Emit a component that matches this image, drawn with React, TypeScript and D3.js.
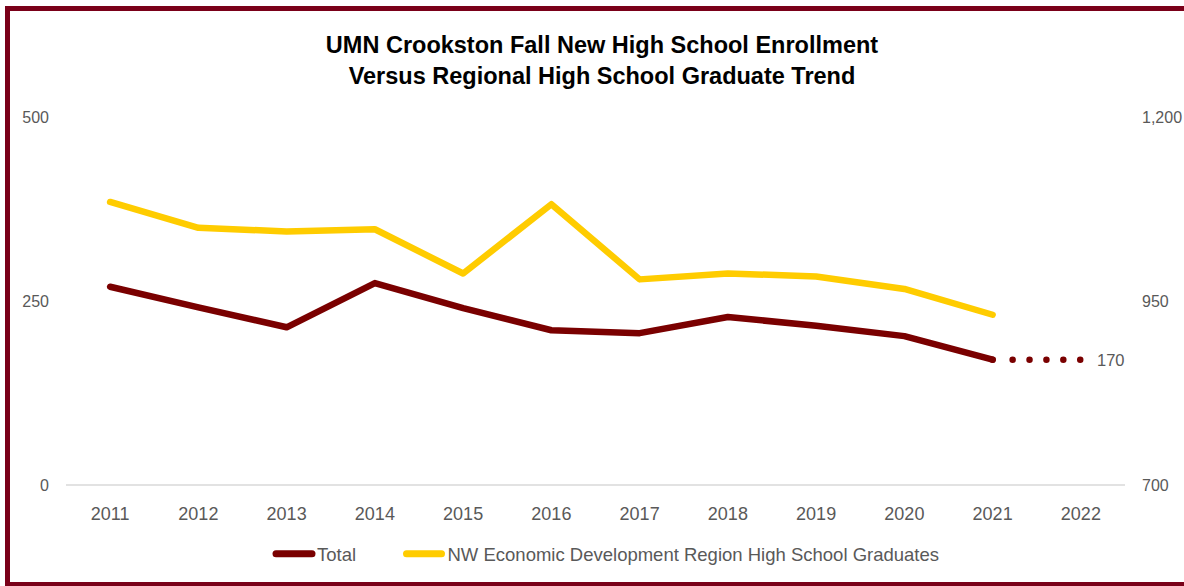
import React from "react";
import * as d3 from "d3";

const years = ["2011","2012","2013","2014","2015","2016","2017","2018","2019","2020","2021","2022"];
const totalYears = ["2011","2012","2013","2014","2015","2016","2017","2018","2019","2020","2021"];
const totalValues = [269, 241, 214, 274, 240, 210, 206, 228, 216, 202, 170];
const forecastYears = ["2021", "2022"];
const forecastValues = [170, 170];
const gradValues = [1084, 1049, 1044, 1047, 987, 1081, 979, 987, 983, 966, 931];
const leftTicks = [0, 250, 500];
const rightTicks = [700, 950, 1200];
const titleLines = ["UMN Crookston Fall New High School Enrollment", "Versus Regional High School Graduate Trend"];
const legendLabels = ["Total", "NW Economic Development Region High School Graduates"];
const forecastLabel = "170";

const W = 1184, H = 586;
const MAROON = "#7A0000";
const GOLD = "#FFCC00";
const BORDER = "#7A0019";
const GRAY = "#595959";
const FONT = "'Liberation Sans', Arial, sans-serif";

export default function App() {
  const x = d3.scaleBand<string>().domain(years).range([66, 1125]);
  const cx = (d: string) => (x(d) as number) + x.bandwidth() / 2;
  const yL = d3.scaleLinear().domain([0, 500]).range([485, 116.5]);
  const yR = d3.scaleLinear().domain([700, 1200]).range([485, 116.5]);

  const totalLine = d3.line<number>().x((_, i) => cx(totalYears[i])).y((v) => yL(v))(totalValues) as string;
  const gradLine = d3.line<number>().x((_, i) => cx(years[i])).y((v) => yR(v))(gradValues) as string;
  const fcLine = d3.line<number>().x((_, i) => cx(forecastYears[i])).y((v) => yL(v))(forecastValues) as string;

  return (
    <svg width={W} height={H} style={{ position: "absolute", left: 0, top: 0, background: "#fff" }}>
      <rect x={0} y={0} width={W} height={H} fill="#fff" />
      <rect x={7.5} y={8.5} width={W + 20} height={576} fill="#fff" stroke={BORDER} strokeWidth={5} />
      {titleLines.map((t, i) => (
        <text key={t} x={602} y={53 + i * 31} textAnchor="middle" fontFamily={FONT} fontWeight="bold" fontSize={23.5} fill="#000">
          {t}
        </text>
      ))}
      <line x1={66} x2={1125} y1={yL(0)} y2={yL(0)} stroke="#D9D9D9" strokeWidth={1.5} />
      {leftTicks.map((t) => (
        <text key={t} x={49} y={yL(t) + 6} textAnchor="end" fontFamily={FONT} fontSize={16} fill={GRAY}>
          {d3.format(",")(t)}
        </text>
      ))}
      {rightTicks.map((t) => (
        <text key={t} x={1142} y={yR(t) + 6} textAnchor="start" fontFamily={FONT} fontSize={16} fill={GRAY}>
          {d3.format(",")(t)}
        </text>
      ))}
      {years.map((yr) => (
        <text key={yr} x={cx(yr)} y={520} textAnchor="middle" fontFamily={FONT} fontSize={18} fill={GRAY}>
          {yr}
        </text>
      ))}
      <path d={gradLine} fill="none" stroke={GOLD} strokeWidth={6.5} strokeLinecap="round" strokeLinejoin="round" />
      <path d={fcLine} fill="none" stroke={MAROON} strokeWidth={6.5} strokeLinecap="round" strokeDasharray="0 20 0 16.9 0 16.9 0 16.9 0 16.9 0 1000" />
      <path d={totalLine} fill="none" stroke={MAROON} strokeWidth={6.5} strokeLinecap="round" strokeLinejoin="round" />
      <text x={1097} y={yL(forecastValues[1]) + 6.5} fontFamily={FONT} fontSize={16.5} fill={GRAY}>
        {forecastLabel}
      </text>
      <g>
        <line x1={276} x2={312} y1={553.7} y2={553.7} stroke={MAROON} strokeWidth={7} strokeLinecap="round" />
        <text x={317} y={560.5} fontFamily={FONT} fontSize={18.5} fill={GRAY}>{legendLabels[0]}</text>
        <line x1={406.5} x2={441.5} y1={553.7} y2={553.7} stroke={GOLD} strokeWidth={7} strokeLinecap="round" />
        <text x={447.5} y={560.5} fontFamily={FONT} fontSize={18.5} fill={GRAY}>{legendLabels[1]}</text>
      </g>
    </svg>
  );
}
